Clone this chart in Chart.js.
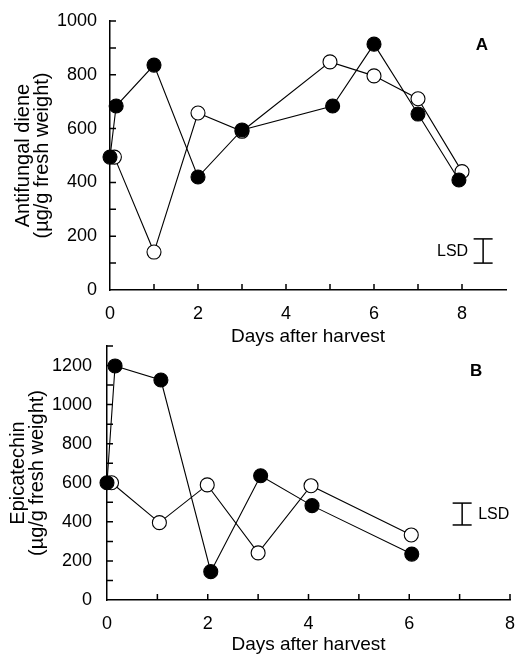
<!DOCTYPE html>
<html><head><meta charset="utf-8">
<script src="https://cdn.jsdelivr.net/npm/chart.js@4.4.1/dist/chart.umd.min.js"></script>
<style>
html,body{margin:0;padding:0;background:#fff;width:521px;height:655px;overflow:hidden}
.c{position:absolute;left:0}
</style></head><body>
<div class="c" style="top:0;width:521px;height:350px"><canvas id="a" width="521" height="350"></canvas></div>
<div class="c" style="top:335px;width:521px;height:320px"><canvas id="b" width="521" height="320"></canvas></div>
<script>
// ---- Panel A: antifungal diene ----
const daysFilledA = [0, 0.14, 1.0, 2.0, 3.0, 5.06, 6.0, 7.0, 7.93];
const dieneFilledA = [494, 684, 836, 420, 595, 684, 914, 654, 409];
const daysOpenA = [0.1, 1.0, 2.0, 3.0, 5.0, 6.0, 7.0, 8.0];
const dieneOpenA = [494, 141, 658, 590, 848, 796, 711, 440];
const lsdDayA = 8.48, lsdLowA = 100, lsdHighA = 190;
const xLabelsA = [0, 2, 4, 6, 8];
const yLabelsA = [0, 200, 400, 600, 800, 1000];

// ---- Panel B: epicatechin ----
const daysFilledB = [0, 0.16, 1.07, 2.06, 3.05, 4.07, 6.05];
const epiFilledB = [600, 1198, 1126, 145, 636, 483, 235];
const daysOpenB = [0.09, 1.04, 1.99, 3.0, 4.05, 6.04];
const epiOpenB = [600, 396, 589, 241, 585, 333];
const lsdDayB = 7.05, lsdLowB = 384, lsdHighB = 496;
const xLabelsB = [0, 2, 4, 6, 8];
const yLabelsB = [0, 200, 400, 600, 800, 1000, 1200];

Chart.defaults.font.family = "'Liberation Sans', Arial, sans-serif";
Chart.defaults.color = '#000';

const pts = (xs, ys) => xs.map((x, i) => ({x, y: ys[i]}));

const inward = {
  id: 'inward',
  afterDraw(chart, args, o) {
    const ctx = chart.ctx;
    const xs = chart.scales.x, ys = chart.scales.y;
    const ca = chart.chartArea;
    ctx.save();
    ctx.strokeStyle = '#000';
    ctx.lineWidth = 1.5;
    ctx.beginPath();
    xs.ticks.forEach(t => {
      if (t.value <= 0 || t.value > o.xMarkMax) return;
      const px = xs.getPixelForValue(t.value);
      ctx.moveTo(px, ca.bottom); ctx.lineTo(px, ca.bottom - 6);
    });
    ys.ticks.forEach(t => {
      if (t.value <= 0) return;
      const py = ys.getPixelForValue(t.value);
      ctx.moveTo(ca.left, py); ctx.lineTo(ca.left + 6, py);
    });
    ctx.stroke();
    // panel letter
    ctx.font = "bold 17px 'Liberation Sans', Arial, sans-serif";
    ctx.fillStyle = '#000';
    ctx.textAlign = 'center';
    ctx.textBaseline = 'middle';
    ctx.fillText(o.letter, xs.getPixelForValue(o.letterAt[0]), ys.getPixelForValue(o.letterAt[1]));
    // LSD text
    ctx.font = "16px 'Liberation Sans', Arial, sans-serif";
    const lx = xs.getPixelForValue(o.lsd[0]);
    const ly = (ys.getPixelForValue(o.lsd[1]) + ys.getPixelForValue(o.lsd[2])) / 2;
    if (o.lsdSide === 'left') { ctx.textAlign = 'right'; ctx.fillText('LSD', lx - 15, ly + 1); }
    else { ctx.textAlign = 'left'; ctx.fillText('LSD', lx + 16, ly + 1); }
    ctx.restore();
  }
};

function zeroPad(s) { s.paddingLeft = 0; s.paddingRight = 0; s.paddingTop = 0; s.paddingBottom = 0; }

function makeChart(id, cfg) {
  const series = (data, fill) => ({
    data, showLine: true, borderColor: '#000', borderWidth: 1.1,
    pointRadius: 7, pointHoverRadius: 7, pointBorderWidth: 1.1, pointBorderColor: '#000',
    pointBackgroundColor: fill, backgroundColor: fill, clip: false, tension: 0
  });
  return new Chart(document.getElementById(id), {
    type: 'scatter',
    data: { datasets: [
      series(cfg.filled, '#000'),
      series(cfg.open, '#fff'),
      { data: cfg.lsd, showLine: true, borderColor: '#000', borderWidth: 1.5,
        pointStyle: 'line', pointRadius: 9.5, pointBorderWidth: 1.5, pointBorderColor: '#000', clip: false }
    ]},
    plugins: [inward],
    options: {
      responsive: false, animation: false, events: [],
      layout: { padding: cfg.padding },
      plugins: { legend: { display: false }, tooltip: { enabled: false },
        inward: cfg.inward },
      scales: {
        x: {
          type: 'linear', min: 0, max: cfg.xMax,
          grid: { display: false, drawTicks: false },
          border: { display: true, color: '#000', width: 1.5 },
          ticks: { stepSize: 1, autoSkip: false, maxRotation: 0, padding: 13, font: { size: 18 },
            callback: v => cfg.xLabels.includes(v) ? String(v) : '' },
          title: { display: true, text: 'Days after harvest', font: { size: 19, lineHeight: 1.05 },
            padding: { top: 0, bottom: cfg.xTitlePad } },
          afterFit: s => { s.height = cfg.xAxisH; zeroPad(s); }
        },
        y: {
          type: 'linear', min: 0, max: cfg.yMax,
          grid: { display: false, drawTicks: false },
          border: { display: true, color: '#000', width: 1.5 },
          ticks: { stepSize: 100, autoSkip: false, padding: cfg.yTickPad, font: { size: 18 },
            callback: v => cfg.yLabels.includes(v) ? String(v) : '' },
          title: { display: true, text: cfg.yTitle, font: { size: 20, lineHeight: 0.95 },
            padding: { top: cfg.yTitlePad, bottom: 0 } },
          afterFit: s => { s.width = cfg.yAxisW; zeroPad(s); }
        }
      }
    }
  });
}

makeChart('a', {
  filled: pts(daysFilledA, dieneFilledA),
  open: pts(daysOpenA, dieneOpenA),
  lsd: [{x: lsdDayA, y: lsdLowA}, {x: lsdDayA, y: lsdHighA}],
  xMax: 9, yMax: 1000, xLabels: xLabelsA, yLabels: yLabelsA,
  yTitle: ['Antifungal diene', '(µg/g fresh weight)'],
  padding: { left: 0, right: 15, top: 21, bottom: 0 },
  xAxisH: 60, yAxisW: 110, yTickPad: 13, xTitlePad: 3, yTitlePad: 13.5,
  inward: { xMarkMax: 8, letter: 'A', letterAt: [8.45, 911], lsd: [lsdDayA, lsdLowA, lsdHighA], lsdSide: 'left' }
});

makeChart('b', {
  filled: pts(daysFilledB, epiFilledB),
  open: pts(daysOpenB, epiOpenB),
  lsd: [{x: lsdDayB, y: lsdLowB}, {x: lsdDayB, y: lsdHighB}],
  xMax: 8, yMax: 1300, xLabels: xLabelsB, yLabels: yLabelsB,
  yTitle: ['Epicatechin', '(µg/g fresh weight)'],
  padding: { left: 0, right: 7, top: 11, bottom: 0 },
  xAxisH: 55, yAxisW: 107, yTickPad: 15, xTitlePad: 0, yTitlePad: 8.5,
  inward: { xMarkMax: 8, letter: 'B', letterAt: [7.33, 1172], lsd: [lsdDayB, lsdLowB, lsdHighB], lsdSide: 'right' }
});
</script>
</body></html>
